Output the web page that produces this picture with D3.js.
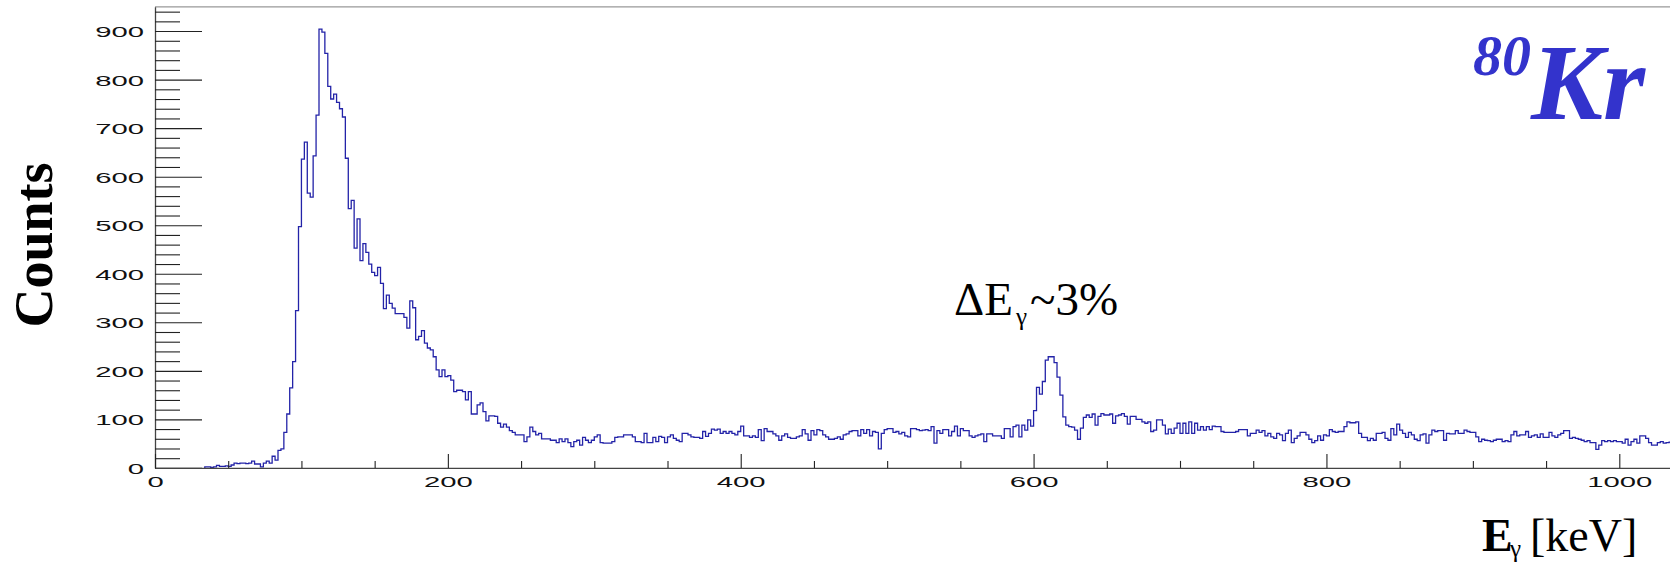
<!DOCTYPE html>
<html>
<head>
<meta charset="utf-8">
<script src="https://cdn.jsdelivr.net/npm/d3@7"></script>
<style>
  html, body { margin: 0; padding: 0; background: #fff; }
  svg { display: block; }
</style>
</head>
<body>
<svg id="chart" width="1670" height="566"></svg>
<script>
// gamma spectrum, 2 keV bins starting at 34 keV (empty below)
const binLow = 34;
const binWidth = 2;
const counts = [
  2, 2, 1, 2, 5, 3, 3, 4, 3, 6, 10, 9, 10, 10, 9, 10, 14, 8, 8, 2,
  10, 14, 10, 24, 16, 36, 39, 73, 111, 165, 219, 324, 497, 636, 671, 566, 558, 643, 727,
  904, 898, 854, 786, 760, 770, 753, 740, 723, 638, 534, 551, 453, 513, 427, 462, 444, 420, 403, 396,
  413, 380, 328, 356, 339, 329, 318, 318, 318, 310, 288, 344, 330, 264, 271, 283, 257, 247, 243, 229,
  202, 188, 202, 188, 190, 181, 157, 160,
  160, 157, 140, 157, 111, 111, 130, 134, 116, 97, 107, 107, 106, 92, 84, 90, 84, 77, 73, 68,
  68, 68, 54, 64, 84, 75, 68, 71, 60, 60, 60, 57, 57, 52, 60, 54, 60, 52, 44, 54,
  57, 47, 63, 57, 52, 57, 64, 68, 52, 51, 51, 51, 54, 63, 64, 64, 68, 68, 68, 64,
  54, 54, 52, 71, 52, 52, 63, 54, 65, 63, 52, 64, 68, 61, 57, 54, 71, 71, 68, 64,
  63, 63, 61, 75, 65, 71, 80, 78, 80, 71, 75, 71, 75, 71, 68,
  75, 86, 66, 66, 63, 66, 63, 79, 56, 81, 75, 75, 70, 66, 57, 66, 70, 63, 61, 61,
  64, 66, 79, 70, 57, 77, 68, 79, 77, 68, 64, 59, 59, 61, 64, 59, 68, 70, 75, 77,
  77, 66, 79, 71, 79, 66, 75, 73, 39, 71, 79, 81, 81, 73, 75, 70, 73, 66, 64, 81,
  81, 79, 77, 78, 79, 77, 85, 51, 77, 71, 79, 79, 66, 75, 86, 66, 81, 77, 77, 66,
  63, 66, 68, 70, 54, 70, 70, 66, 66, 66, 61, 81, 81, 64,
  85, 88, 64, 88, 78, 99, 86, 118, 166, 152, 178, 222, 229, 229, 217, 187, 150, 105, 88, 85,
  84, 78, 59, 82, 104, 109, 104, 111, 88, 106, 112, 109, 109, 111, 92, 107, 109, 112, 106, 90,
  106, 106, 100, 100, 95, 92, 95, 75, 78, 99, 99, 88, 70, 80, 71, 82, 92,
  71, 92, 71, 95, 71, 92, 78, 85, 78, 85, 79, 86, 85, 85, 75, 73, 73, 73, 73, 75,
  79, 79, 79, 66, 71, 71, 78, 73, 77, 66, 71, 64, 61, 71, 68, 56, 71, 78, 52, 61,
  66, 73, 73, 68, 59, 52, 56, 66, 57, 68, 66, 79, 75, 73, 75, 75, 85, 95, 93, 93,
  95, 71, 63, 63, 56, 61, 57, 71, 71, 73, 61, 57, 81, 68, 90, 78, 71, 63, 73, 68,
  59, 56, 68, 70, 51, 68, 78, 75, 77, 77, 57, 71, 70,
  70, 77, 71, 71, 78, 75, 73, 73, 64, 54, 59, 57, 56, 54, 57, 59, 59, 54, 56, 54,
  68, 75, 66, 68, 68, 75, 63, 66, 68, 63, 70, 63, 63, 73, 66, 63, 68, 71, 77, 77,
  61, 63, 61, 59, 57, 54, 56, 52, 52, 38, 47, 56, 54, 56, 54, 56, 54, 54, 51, 59,
  47, 54, 59, 51, 66, 66, 61, 52, 47, 47, 52, 54, 51, 52, 53, 52, 50, 50
];

const xMajor = [0, 200, 400, 600, 800, 1000];
const xMinor = [50, 100, 150, 250, 300, 350, 450, 500, 550, 650, 700, 750, 850, 900, 950];
const yMajor = [0, 100, 200, 300, 400, 500, 600, 700, 800, 900];
const yMinor = [20, 40, 60, 80, 120, 140, 160, 180, 220, 240, 260, 280, 320, 340, 360, 380,
  420, 440, 460, 480, 520, 540, 560, 580, 620, 640, 660, 680, 720, 740, 760, 780,
  820, 840, 860, 880, 920, 940];

const xMax = 1040;
const yMax = 950;

const svg = d3.select('#chart');

const x = d3.scaleLinear().domain([0, xMax]).range([155, 155 + xMax * 1.4643]);
const y = d3.scaleLinear().domain([0, yMax]).range([467.9, 6.8]);

const sansFont = '"Liberation Sans", Arial, sans-serif';
const serifFont = '"Liberation Serif", "Times New Roman", serif';

// frame top line
svg.append('line')
  .attr('x1', x(0)).attr('x2', x(xMax))
  .attr('y1', y(yMax)).attr('y2', y(yMax))
  .attr('stroke', '#999').attr('stroke-width', 1.3);

// histogram outline
const pts = counts.map((c, i) => [binLow + i * binWidth, c]);
pts.unshift([binLow, 0]);
pts.push([binLow + counts.length * binWidth, counts[counts.length - 1]]);

const line = d3.line()
  .x((d) => x(d[0]))
  .y((d) => y(d[1]))
  .curve(d3.curveStepAfter);

svg.append('path')
  .datum(pts)
  .attr('d', line)
  .attr('fill', 'none')
  .attr('stroke', '#2323a8')
  .attr('stroke-width', 1.3);

// y axis, major + minor
const gy = svg.append('g').attr('transform', `translate(${x(0)},0)`)
  .call(d3.axisLeft(y).tickValues(yMajor).tickSize(-47).tickSizeOuter(0).tickFormat(d3.format('d')));
gy.append('g')
  .call(d3.axisLeft(y).tickValues(yMinor).tickSize(-25).tickFormat(''))
  .select('.domain').remove();

// x axis, major + minor
const gx = svg.append('g').attr('transform', `translate(0,${y(0)})`)
  .call(d3.axisBottom(x).tickValues(xMajor).tickSize(-14).tickSizeOuter(0).tickFormat(d3.format('d')));
gx.append('g')
  .call(d3.axisBottom(x).tickValues(xMinor).tickSize(-7).tickFormat(''))
  .select('.domain').remove();

svg.selectAll('.domain').attr('stroke', '#444').attr('stroke-width', 1.3);
svg.selectAll('.tick line').attr('stroke', '#222').attr('stroke-width', 1.1);

// ROOT style wide tick labels
gy.selectAll('.tick text')
  .attr('x', null).attr('dy', null)
  .attr('transform', 'translate(-11,5.5) scale(1.95,1)')
  .attr('text-anchor', 'end')
  .style('font-family', sansFont).style('font-size', '15px').attr('fill', '#111');
gx.selectAll('.tick text')
  .attr('y', null).attr('dy', null)
  .attr('transform', 'translate(0,19) scale(1.95,1)')
  .attr('text-anchor', 'middle')
  .style('font-family', sansFont).style('font-size', '15px').attr('fill', '#111');

// axis titles
svg.append('text')
  .attr('transform', 'translate(51.5,245) rotate(-90)')
  .attr('text-anchor', 'middle')
  .style('font-family', serifFont).style('font-weight', 'bold').style('font-size', '54px')
  .text('Counts');

const xt = svg.append('text')
  .style('font-family', serifFont).style('font-size', '46px');
xt.append('tspan').attr('x', 1482).attr('y', 551).style('font-weight', 'bold').text('E');
xt.append('tspan').attr('x', 1510).attr('y', 557).style('font-size', '25px').text('γ');
xt.append('tspan').attr('x', 1530).attr('y', 551).text('[keV]');

// resolution annotation
const an = svg.append('text')
  .style('font-family', serifFont).style('font-size', '47px');
an.append('tspan').attr('x', 954).attr('y', 315).text('ΔE');
an.append('tspan').attr('x', 1016).attr('y', 325).style('font-size', '25px').text('γ');
an.append('tspan').attr('x', 1030).attr('y', 315).text('~3%');

// isotope label
const iso = svg.append('text')
  .style('font-family', serifFont).style('font-weight', 'bold').style('font-style', 'italic')
  .attr('fill', '#3333cc');
iso.append('tspan').attr('x', 1473).attr('y', 75).style('font-size', '58px').text('80');
iso.append('tspan').attr('x', 1531).attr('y', 119).style('font-size', '108px').text('Kr');
</script>
</body>
</html>
